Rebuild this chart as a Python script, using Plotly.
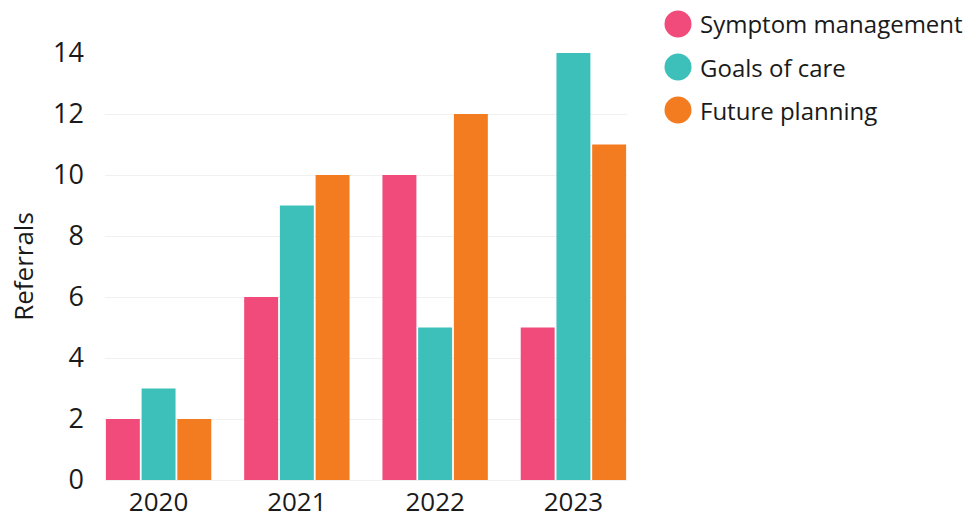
import plotly.graph_objects as go

# Referrals per year, by topic
years = ["2020", "2021", "2022", "2023"]
series_names = ["Symptom management", "Goals of care", "Future planning"]
symptom_management = [2, 6, 10, 5]
goals_of_care = [3, 9, 5, 14]
future_planning = [2, 10, 12, 11]
y_ticks = [0, 2, 4, 6, 8, 10, 12, 14]

colors = ["#F04B7B", "#3CC0B9", "#F47C20"]
values = [symptom_management, goals_of_care, future_planning]
FONT = "Open Sans"

fig = go.Figure()
for name, vals, col in zip(series_names, values, colors):
    fig.add_trace(go.Bar(
        x=years, y=vals, name=name, marker_color=col,
        marker_line_width=0, showlegend=False,
    ))

W, H = 966, 520
L, R, T, B = 105, 339, 53, 40

# Custom legend: large circles with labels to the right of the plot
legend_x_px = 678
legend_y_px = [24, 67, 110]
plot_w = W - L - R
plot_h = H - T - B
for name, col, py in zip(series_names, colors, legend_y_px):
    xp = (legend_x_px - L) / plot_w
    yp = (H - B - py) / plot_h
    fig.add_shape(
        type="circle", xref="paper", yref="paper",
        xsizemode="pixel", ysizemode="pixel",
        xanchor=xp, yanchor=yp,
        x0=-13.5, x1=13.5, y0=-13.5, y1=13.5,
        fillcolor=col, line_width=0,
    )
    fig.add_annotation(
        x=(698 - L) / plot_w, y=yp, xref="paper", yref="paper",
        text=name, showarrow=False, xanchor="left", yanchor="middle",
        font=dict(family=FONT, size=24, color="#1a1a1a"),
    )

fig.update_layout(
    width=W, height=H,
    margin=dict(l=L, r=R, t=T, b=B, pad=0),
    paper_bgcolor="white", plot_bgcolor="white",
    barmode="group", bargap=0.225, bargroupgap=0.05,
    font=dict(family=FONT, color="#1a1a1a"),
)
fig.update_xaxes(
    type="category", range=[-0.3875, 3.3875], automargin=False,
    showgrid=False, zeroline=False, showline=False, ticks="",
    tickfont=dict(size=26, color="#1a1a1a"), ticklabelstandoff=4,
)
fig.update_yaxes(
    range=[0, 14], tickvals=y_ticks, automargin=False,
    showgrid=True, gridcolor="#F0F0F0", gridwidth=1,
    zeroline=True, zerolinecolor="#F0F0F0", zerolinewidth=1,
    showline=False, ticks="",
    tickfont=dict(size=27, color="#1a1a1a"), ticklabelstandoff=20,
    title=dict(text="Referrals", font=dict(size=26, color="#1a1a1a"), standoff=12),
)

fig.write_html("out.html")
